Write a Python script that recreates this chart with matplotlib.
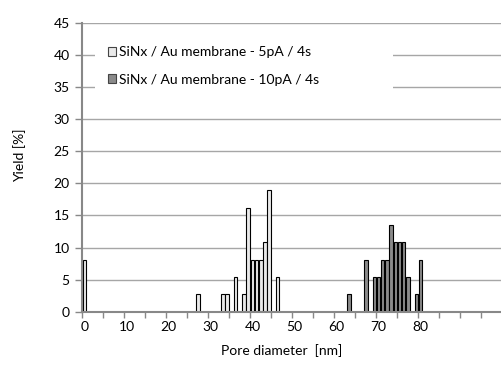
import matplotlib
matplotlib.use('Agg')
import matplotlib.pyplot as plt
from matplotlib.patches import Rectangle, Patch
import numpy as np

plt.rcParams['font.family'] = ['Lato', 'DejaVu Sans']

# pore diameter categories (nm) and yields (%)
categories = np.arange(0, 100)
series1_pos = [0, 27, 33, 34, 36, 38, 39, 40, 41, 42, 43, 44, 46]
series1_val = [8.1, 2.7, 2.7, 2.7, 5.4, 2.7, 16.2, 8.1, 8.1, 8.1, 10.8, 18.9, 5.4]
series2_pos = [63, 67, 69, 70, 71, 72, 73, 74, 75, 76, 77, 79, 80]
series2_val = [2.7, 8.1, 5.4, 5.4, 8.1, 8.1, 13.5, 10.8, 10.8, 10.8, 5.4, 2.7, 8.1]
label1 = 'SiNx / Au membrane - 5pA / 4s'
label2 = 'SiNx / Au membrane - 10pA / 4s'
xtick_labels = [0, 10, 20, 30, 40, 50, 60, 70, 80]
yticks = [0, 5, 10, 15, 20, 25, 30, 35, 40, 45]

light = '#e9e9e9'
dark = '#8a8a8a'

fig = plt.figure(figsize=(5.02, 3.72), dpi=100)
ax = fig.add_axes([0.164, 0.162, 0.836, 0.777])

ax.bar(series1_pos, series1_val, width=0.85, color=light, edgecolor='black', linewidth=0.8, zorder=2)
ax.bar(series2_pos, series2_val, width=0.85, color=dark, edgecolor='black', linewidth=0.8, zorder=2)

ax.set_xlim(-0.5, 99.4)
ax.set_ylim(0, 45)

ax.set_yticks(yticks)
ax.yaxis.grid(True, color='#a6a6a6', linewidth=1.0)
ax.set_axisbelow(True)

# labels at the category centres, tick marks between categories
ax.set_xticks(xtick_labels)
ax.set_xticklabels([str(v) for v in xtick_labels])
ax.tick_params(axis='x', which='major', length=0, pad=7, labelsize=10, colors='black')
ax.set_xticks(np.arange(-0.5, 99, 5), minor=True)
ax.tick_params(axis='x', which='minor', length=4, width=1, color='#888888', direction='out')
ax.tick_params(axis='y', length=5, width=1, color='#888888', labelsize=10, pad=4)

for s in ['top', 'right']:
    ax.spines[s].set_visible(False)
for s in ['left', 'bottom']:
    ax.spines[s].set_color('#888888')
    ax.spines[s].set_linewidth(1.5)

ax.set_xlabel('Pore diameter  [nm]', fontsize=10)
ax.xaxis.set_label_coords(0.475, -0.112)
ax.set_ylabel('Yield [%]', fontsize=10)
ax.yaxis.set_label_coords(-0.135, 0.54)

# white box behind the legend hides the gridlines
ax.add_patch(Rectangle((0.03, 0.74), 0.71, 0.21, transform=ax.transAxes,
                       facecolor='white', edgecolor='none', zorder=1.5))
handles = [Patch(facecolor=light, edgecolor='#444444', linewidth=0.8),
           Patch(facecolor=dark, edgecolor='#444444', linewidth=0.8)]
ax.legend(handles, [label1, label2], loc='center left', bbox_to_anchor=(0.045, 0.85),
          frameon=False, borderpad=0, fontsize=10, handlelength=0.6, handleheight=0.6,
          handletextpad=0.2, labelspacing=1.1)

fig.savefig('out.png', dpi=100)
